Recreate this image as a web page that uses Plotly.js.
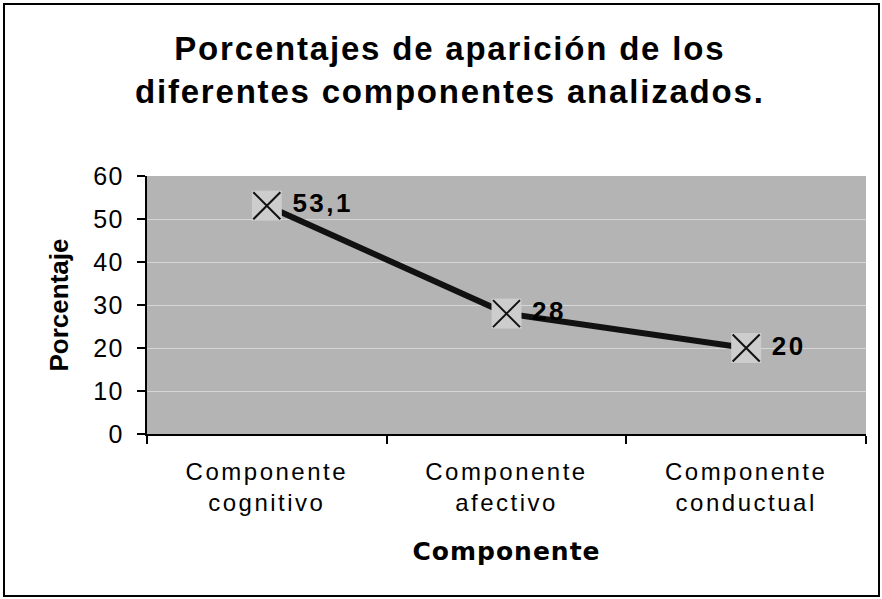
<!DOCTYPE html>
<html><head><meta charset="utf-8">
<script src="https://cdn.plot.ly/plotly-3.0.1.min.js"></script>
<style>
body{margin:0;padding:0;background:#fff;}
#chart{width:882px;height:599px;}
#frame{position:absolute;left:3px;top:3px;width:873px;height:590px;border:2px solid #000;pointer-events:none;}
#chart .gtitle{letter-spacing:1.8px;}
#chart .xtick text{letter-spacing:2.5px;}
#chart .ytick text{letter-spacing:1.5px;}
#chart .textpoint text{letter-spacing:2.5px;}
#chart .xtitle{letter-spacing:1px;}
</style></head>
<body>
<div id="chart"></div>
<div id="frame"></div>
<script>
const categories = ["Componente<br>cognitivo", "Componente<br>afectivo", "Componente<br>conductual"];
const percentages = [53.1, 28, 20];
const labels = ["53,1", "28", "20"];

const traces = [
  {x: categories, y: percentages, type: "scatter", mode: "lines",
   line: {color: "#111", width: 6}, hoverinfo: "skip", showlegend: false},
  {x: categories, y: percentages, type: "scatter", mode: "markers",
   marker: {symbol: "square", size: 30, color: "#cdcdcd", line: {width: 0}},
   hoverinfo: "skip", showlegend: false},
  {x: categories, y: percentages, type: "scatter", mode: "markers+text",
   marker: {symbol: "x-thin-open", size: 27, color: "#111", line: {color: "#111", width: 2}},
   text: labels, texttemplate: "&#8201;%{text}", textposition: "middle right",
   textfont: {family: "Liberation Sans, Arial, sans-serif", size: 26, color: "#000", weight: "bold"},
   showlegend: false}
];

const layout = {
  width: 882, height: 599,
  margin: {l: 147, r: 16, t: 176, b: 165},
  paper_bgcolor: "#ffffff",
  plot_bgcolor: "#b4b4b4",
  separators: ",.",
  title: {text: "<b>Porcentajes de aparición de los<br>diferentes componentes analizados.</b>",
    font: {family: "Liberation Sans, Arial, sans-serif", size: 33, color: "#000"},
    x: 0.51, xanchor: "center", xref: "container", y: 0.9, yanchor: "top"},
  xaxis: {type: "category", tickson: "boundaries", ticks: "outside", ticklen: 8, tickwidth: 2, tickcolor: "#000",
    showline: true, linecolor: "#000", linewidth: 2, showgrid: false, zeroline: false,
    ticklabelstandoff: 15,
    tickfont: {family: "Liberation Sans, Arial, sans-serif", size: 24, color: "#000"},
    title: {text: "<b>Componente</b>", font: {family: "DejaVu Sans, sans-serif", size: 25, color: "#000"}, standoff: 27},
    range: [-0.5, 2.5]},
  yaxis: {range: [0, 60], dtick: 10, ticks: "outside", ticklen: 8, tickwidth: 2, tickcolor: "#000",
    showline: true, linecolor: "#000", linewidth: 2, showgrid: true, gridcolor: "#d6d6d6", gridwidth: 1, zeroline: false,
    ticklabelstandoff: 8,
    tickfont: {family: "Liberation Sans, Arial, sans-serif", size: 25, color: "#000"},
    title: {text: "<b>Porcentaje</b>", font: {family: "Liberation Sans, Arial, sans-serif", size: 26, color: "#000"}, standoff: 20}}
};

Plotly.newPlot("chart", traces, layout, {staticPlot: true});
</script>
</body></html>
